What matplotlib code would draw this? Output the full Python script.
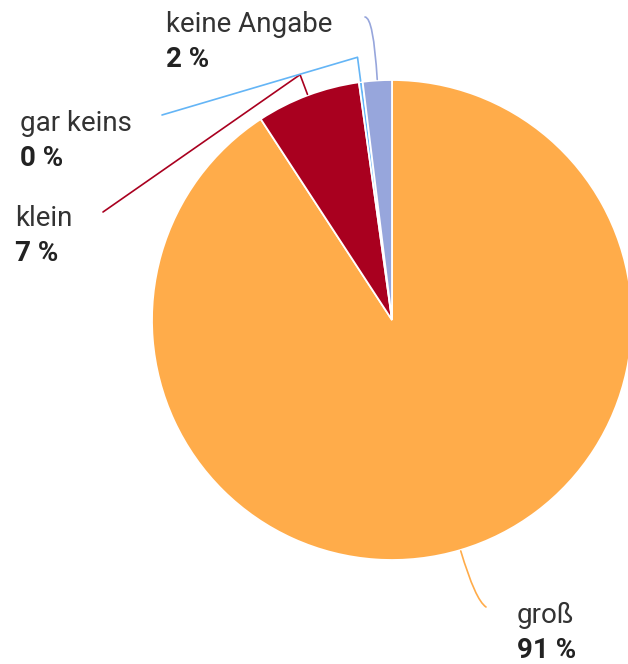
import matplotlib
matplotlib.use("Agg")
import matplotlib.pyplot as plt
import numpy as np
from matplotlib.path import Path
from matplotlib.patches import PathPatch

# Data
categories = ["groß", "klein", "gar keins", "keine Angabe"]
values = [90.7, 7.0, 0.25, 1.95]
value_labels = ["91 %", "7 %", "0 %", "2 %"]
colors = ["#FFAC4A", "#A9001F", "#64B5F6", "#97A6DC"]

W, H = 628, 664
fig = plt.figure(figsize=(W / 100, H / 100), dpi=100)
ax = fig.add_axes([0, 0, 1, 1])

center = (392, 320)
radius = 240
wedges, _ = ax.pie(values, colors=colors, startangle=-90, counterclock=True,
                   center=center, radius=radius,
                   wedgeprops=dict(edgecolor="white", linewidth=1.3))
ax.set_xlim(0, W)
ax.set_ylim(H, 0)
ax.set_aspect("equal")
ax.axis("off")

def pt(theta_deg, r):
    t = np.deg2rad(theta_deg)
    return (center[0] + r * np.cos(t), center[1] + r * np.sin(t))

# leader-line layout: (kind, elbow radius, end point)
leaders = [
    ("curve", 292, (486, 607)),
    ("elbow", 262, (103, 212)),
    ("elbow", 265, (162, 115)),
    ("curve", 303, (365, 17)),
]
# label layout: (x, label baseline)
label_pos = [(517, 623), (15, 226), (20, 131), (166, 32)]

for w, col, (kind, r_el, end), (lx, ly), cat, vl in zip(
        wedges, colors, leaders, label_pos, categories, value_labels):
    mid = 0.5 * (w.theta1 + w.theta2)
    p0 = pt(mid, radius + 1)
    p1 = pt(mid, r_el)
    if kind == "curve":
        path = Path([p0, p1, end], [Path.MOVETO, Path.CURVE3, Path.CURVE3])
    else:
        path = Path([p0, p1, end], [Path.MOVETO, Path.LINETO, Path.LINETO])
    ax.add_patch(PathPatch(path, facecolor="none", edgecolor=col, lw=1.2,
                           joinstyle="round", capstyle="round"))
    ax.text(lx, ly, cat, fontsize=20, family="Roboto", color="#333333",
            va="baseline", ha="left")
    ax.text(lx, ly + 35, vl, fontsize=20, family="Roboto", fontweight="bold",
            color="#222222", va="baseline", ha="left")

fig.savefig("out.png", dpi=100, facecolor="white")
